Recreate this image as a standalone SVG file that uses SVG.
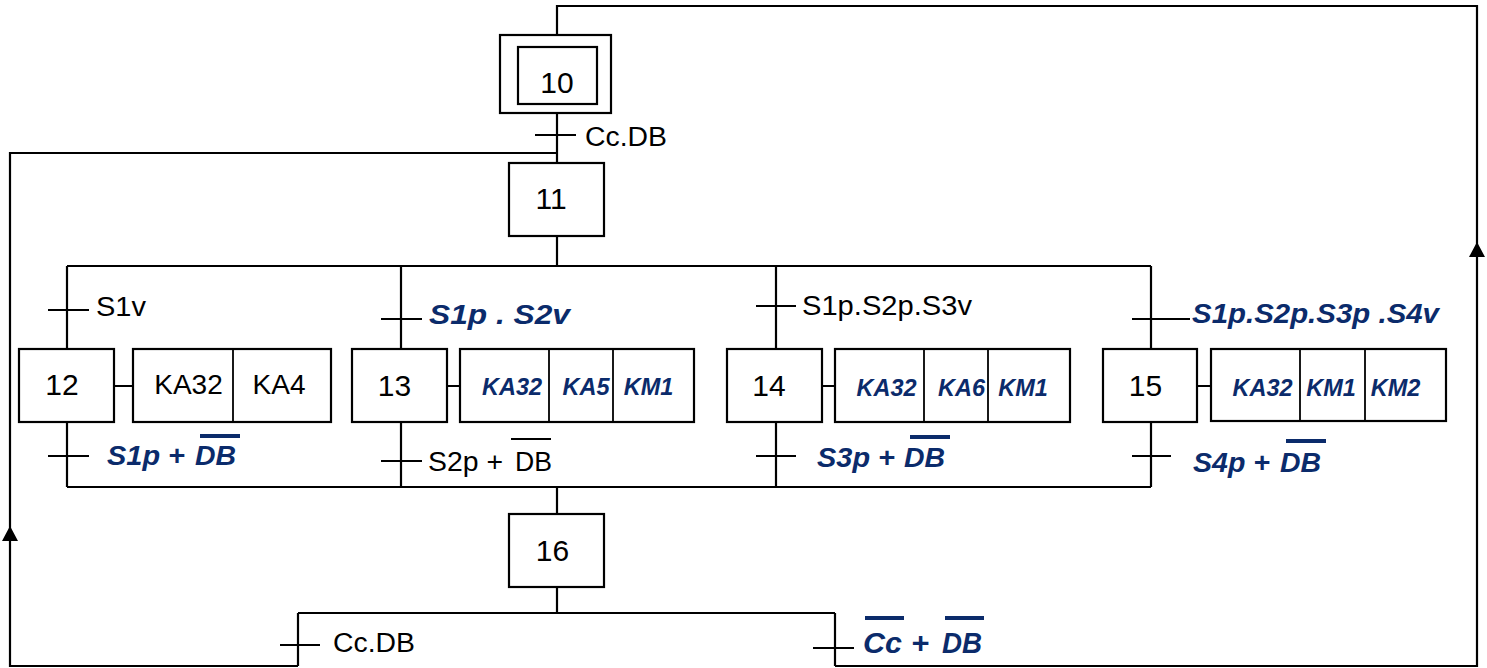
<svg xmlns="http://www.w3.org/2000/svg" width="1487" height="668" viewBox="0 0 1487 668">
<defs>
<style>
.ln{fill:none;stroke:#000;stroke-width:2.2}
.bx{fill:#fff;stroke:#000;stroke-width:2.2}
.dv{stroke:#000;stroke-width:1.8}
.num{font-family:"Liberation Sans",Arial,sans-serif;font-size:30px;fill:#000;text-anchor:middle}
.act{font-family:"Liberation Sans",Arial,sans-serif;font-size:28px;fill:#000;text-anchor:middle}
.actb{font-family:"Liberation Sans",Arial,sans-serif;font-size:23.5px;font-weight:bold;font-style:italic;fill:#0B2B6B;text-anchor:middle}
.lab{font-family:"Liberation Sans",Arial,sans-serif;font-size:27px;fill:#000}
.labb{font-family:"Liberation Sans",Arial,sans-serif;font-size:27px;font-weight:bold;font-style:italic;fill:#0B2B6B}
.labc{font-family:"Liberation Sans",Arial,sans-serif;font-size:29px;font-weight:bold;font-style:italic;fill:#0B2B6B}
.ovb{stroke:#0B2B6B;stroke-width:4}
.ov{stroke:#000;stroke-width:1.8}
</style>
</defs>
<rect width="1487" height="668" fill="#fff"/>
<g id="connectors">
<path class="ln" d="M557,35 V6 H1477 V666 H835"/>
<path class="ln" d="M298,666 H10 V153 H557"/>
<polygon points="1477,242 1469,257 1485,257" fill="#000"/>
<polygon points="10,526 2,541 18,541" fill="#000"/>
<path class="ln" d="M557,113 V163"/>
<path class="ln" d="M557,236 V266 M67,266 H1151 M67,266 V349 M401,266 V349 M776,266 V349 M1151,266 V349"/>
<path class="ln" d="M67,422 V487 M401,422 V487 M776,422 V487 M1151,422 V487 M67,487 H1151 M557,487 V514"/>
<path class="ln" d="M557,587 V613 M298,613 H835 M298,613 V666 M835,613 V666"/>
<path class="ln" d="M114,386 H133 M447,386 H460 M822,386 H835 M1197,386 H1211"/>
<path class="ln" d="M535,135 H576 M48,310 H89 M381,319 H422 M756,306 H796 M1132,319 H1190 M48,456 H89 M381,461 H422 M756,456 H796 M1132,456 H1171 M280,645 H320 M813,648 H854"/>
</g>
<g id="labels">
<text class="lab" x="585" y="146" textLength="82" lengthAdjust="spacingAndGlyphs">Cc.DB</text>
<text class="lab" x="96" y="316" textLength="50" lengthAdjust="spacingAndGlyphs">S1v</text>
<text class="labb" x="429" y="324" textLength="141" lengthAdjust="spacingAndGlyphs">S1p . S2v</text>
<text class="lab" x="802" y="315" textLength="170" lengthAdjust="spacingAndGlyphs">S1p.S2p.S3v</text>
<text class="labb" x="1192" y="323" textLength="247" lengthAdjust="spacingAndGlyphs">S1p.S2p.S3p .S4v</text>
<text class="labb" x="107" y="465" textLength="78" lengthAdjust="spacingAndGlyphs">S1p +</text>
<text class="labb" x="195" y="465" textLength="41" lengthAdjust="spacingAndGlyphs">DB</text>
<line class="ovb" x1="200" y1="436" x2="240" y2="436"/>
<text class="lab" x="428" y="471" textLength="75" lengthAdjust="spacingAndGlyphs">S2p +</text>
<text class="lab" x="515" y="471" textLength="37" lengthAdjust="spacingAndGlyphs">DB</text>
<line class="ov" x1="511" y1="439" x2="551" y2="439"/>
<text class="labb" x="817" y="467" textLength="78" lengthAdjust="spacingAndGlyphs">S3p +</text>
<text class="labb" x="904" y="467" textLength="41" lengthAdjust="spacingAndGlyphs">DB</text>
<line class="ovb" x1="910" y1="437" x2="950" y2="437"/>
<text class="labb" x="1193" y="472" textLength="77" lengthAdjust="spacingAndGlyphs">S4p +</text>
<text class="labb" x="1280" y="472" textLength="41" lengthAdjust="spacingAndGlyphs">DB</text>
<line class="ovb" x1="1286" y1="441" x2="1326" y2="441"/>
<text class="lab" x="333" y="652" textLength="82" lengthAdjust="spacingAndGlyphs">Cc.DB</text>
<text class="labc" x="863" y="653" textLength="39" lengthAdjust="spacingAndGlyphs">Cc</text>
<text class="labc" x="911" y="653" textLength="18" lengthAdjust="spacingAndGlyphs">+</text>
<text class="labc" x="942" y="653" textLength="40" lengthAdjust="spacingAndGlyphs">DB</text>
<line class="ovb" x1="865" y1="618" x2="904" y2="618"/>
<line class="ovb" x1="945" y1="618" x2="984" y2="618"/>
</g>
<g id="step10">
<rect class="bx" x="500" y="35" width="111" height="78"/>
<rect class="bx" x="518" y="47" width="79" height="57"/>
<text class="num" x="557" y="93">10</text>
</g>
<g id="step11">
<rect class="bx" x="509" y="163" width="95" height="73"/>
<text class="num" x="551" y="209">11</text>
</g>
<g id="step12">
<rect class="bx" x="19" y="349" width="95" height="73"/>
<text class="num" x="62" y="395">12</text>
</g>
<g id="action12">
<rect class="bx" x="133" y="349" width="198" height="73"/>
<line class="dv" x1="233" y1="349" x2="233" y2="422"/>
<text class="act" x="188.5" y="394">KA32</text>
<text class="act" x="279" y="394">KA4</text>
</g>
<g id="step13">
<rect class="bx" x="352" y="349" width="95" height="73"/>
<text class="num" x="394.5" y="396">13</text>
</g>
<g id="action13">
<rect class="bx" x="460" y="349" width="234" height="73"/>
<line class="dv" x1="549" y1="349" x2="549" y2="422"/>
<line class="dv" x1="613" y1="349" x2="613" y2="422"/>
<text class="actb" x="512" y="395">KA32</text>
<text class="actb" x="586" y="395">KA5</text>
<text class="actb" x="648.5" y="395">KM1</text>
</g>
<g id="step14">
<rect class="bx" x="727" y="349" width="95" height="73"/>
<text class="num" x="769" y="396">14</text>
</g>
<g id="action14">
<rect class="bx" x="835" y="349" width="235" height="73"/>
<line class="dv" x1="924" y1="349" x2="924" y2="422"/>
<line class="dv" x1="988" y1="349" x2="988" y2="422"/>
<text class="actb" x="886.5" y="396">KA32</text>
<text class="actb" x="961.5" y="396">KA6</text>
<text class="actb" x="1023" y="396">KM1</text>
</g>
<g id="step15">
<rect class="bx" x="1103" y="349" width="94" height="73"/>
<text class="num" x="1145.5" y="396">15</text>
</g>
<g id="action15">
<rect class="bx" x="1211" y="349" width="235" height="72"/>
<line class="dv" x1="1300" y1="349" x2="1300" y2="421"/>
<line class="dv" x1="1365" y1="349" x2="1365" y2="421"/>
<text class="actb" x="1262.5" y="396">KA32</text>
<text class="actb" x="1331" y="396">KM1</text>
<text class="actb" x="1395.5" y="396">KM2</text>
</g>
<g id="step16">
<rect class="bx" x="509" y="514" width="95" height="73"/>
<text class="num" x="552.5" y="561">16</text>
</g>
</svg>
